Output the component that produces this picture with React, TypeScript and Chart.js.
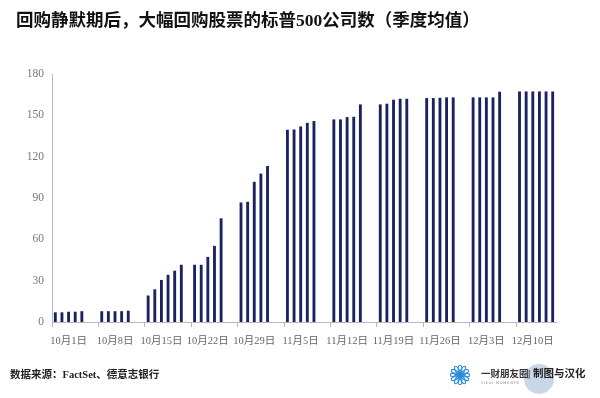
import React, { useEffect, useRef } from "react";
import { Chart, registerables } from "chart.js";

Chart.register(...registerables);

const title = "回购静默期后，大幅回购股票的标普500公司数（季度均值）";
const sourceText = "数据来源：FactSet、德意志银行";
const brandText = "一财朋友圈";
const brandSub = "YICAI MOMENTS";
const creditText = "制图与汉化";

const weekLabels = ["10月1日", "10月8日", "10月15日", "10月22日", "10月29日", "11月5日", "11月12日", "11月19日", "11月26日", "12月3日", "12月10日"];

// one array per week, 7 day-slots each (null = no bar)
const week1 = [6.8, 6.8, 7.2, 7.2, 7.6, null, null];
const week2 = [7.6, 7.6, 7.6, 7.6, 8, null, null];
const week3 = [19, 23.5, 30.3, 34, 37, 41.3, null];
const week4 = [41.3, 41.3, 47, 55, 75, null, null];
const week5 = [86.5, 87, 101.5, 107.5, 113, null, null];
const week6 = [139.3, 139.5, 141.7, 144.3, 145.6, null, null];
const week7 = [146.8, 146.8, 148.5, 148.7, 157.7, null, null];
const week8 = [157.7, 158.2, 161.1, 161.8, 161.8, null, null];
const week9 = [162.3, 162.3, 162.5, 162.8, 162.8, null, null];
const week10 = [162.8, 162.8, 162.8, 162.8, 166.9, null, null];
const week11 = [167.1, 167.1, 167.1, 167.1, 167.1, 167.1];

const weeks = [week1, week2, week3, week4, week5, week6, week7, week8, week9, week10, week11];

const yTicks = { min: 0, max: 180, step: 30 };

const FONT = '"Liberation Serif", "DejaVu Serif", "Noto Sans CJK SC", serif';
const CJK = '"Liberation Serif", "Noto Sans CJK SC", sans-serif';

function Flower() {
  const petals = [];
  for (let i = 0; i < 12; i++) {
    petals.push(
      <ellipse key={i} cx={10} cy={4.2} rx={1.9} ry={4} fill="none" stroke="#2b8ad6" strokeWidth={1.1} transform={`rotate(${i * 30} 10 10)`} />
    );
  }
  return (
    <svg width={20} height={20} viewBox="0 0 20 20">
      {petals}
      <circle cx={10} cy={10} r={2.6} fill="#2b8ad6" />
    </svg>
  );
}

export default function App() {
  const ref = useRef<HTMLCanvasElement>(null);

  useEffect(() => {
    const labels: string[] = [];
    const values: (number | null)[] = [];
    weeks.forEach((w, i) => {
      w.forEach((v, j) => {
        labels.push(weekLabels[i] + "-" + j);
        values.push(v);
      });
    });

    const chart = new Chart(ref.current!, {
      type: "bar",
      data: {
        labels,
        datasets: [
          {
            data: values,
            backgroundColor: "#1b2262",
            barThickness: 2.2,
          },
        ],
      },
      options: {
        animation: false,
        responsive: false,
        devicePixelRatio: 1,
        layout: { padding: { left: 0, top: 74, right: 44, bottom: 0 } },
        plugins: { legend: { display: false }, tooltip: { enabled: false } },
        scales: {
          x: {
            offset: true,
            grid: {
              offset: true,
              drawOnChartArea: false,
              drawTicks: true,
              tickLength: 5,
              color: (ctx: any) => (ctx.index % 7 === 0 ? "#b8b8b8" : "rgba(0,0,0,0)"),
            },
            border: { display: true, color: "#b8b8b8", width: 1 },
            ticks: {
              autoSkip: false,
              maxRotation: 0,
              minRotation: 0,
              padding: 8,
              color: "#666",
              font: { family: CJK, size: 10.5 },
              callback: (_v: any, idx: number) => (idx % 7 === 2 ? weekLabels[Math.floor(idx / 7)] : ""),
            },
            afterFit: (s: any) => {
              s.height = 398 - 322;
            },
          },
          y: {
            min: yTicks.min,
            max: yTicks.max,
            grid: { display: false, drawTicks: false },
            border: { display: true, color: "#b8b8b8", width: 1 },
            ticks: {
              stepSize: yTicks.step,
              padding: 8,
              color: "#777",
              font: { family: FONT, size: 11.5 },
            },
            afterFit: (s: any) => {
              s.width = 52;
            },
          },
        },
      },
    });
    return () => chart.destroy();
  }, []);

  return (
    <div style={{ position: "fixed", left: 0, top: 0, width: 600, height: 398, background: "#fff", overflow: "hidden" }}>
      <canvas ref={ref} width={600} height={398} style={{ position: "absolute", left: 0, top: 0, width: 600, height: 398 }} />
      <div
        style={{
          position: "absolute",
          left: 16,
          top: 10,
          fontFamily: CJK,
          fontWeight: 700,
          fontSize: 17.5,
          lineHeight: "20px",
          color: "#111",
          whiteSpace: "nowrap",
        }}
      >
        {title}
      </div>
      <div
        style={{
          position: "absolute",
          left: 10,
          top: 368,
          fontFamily: CJK,
          fontWeight: 700,
          fontSize: 10.5,
          lineHeight: "14px",
          color: "#222",
          whiteSpace: "nowrap",
        }}
      >
        {sourceText}
      </div>
      <div style={{ position: "absolute", left: 524, top: 364, width: 30, height: 30, borderRadius: 15, background: "rgba(160,182,210,0.55)" }} />
      <div style={{ position: "absolute", left: 450, top: 365 }}>
        <Flower />
      </div>
      <div
        style={{
          position: "absolute",
          left: 481,
          top: 368,
          fontFamily: CJK,
          fontWeight: 700,
          fontSize: 9.5,
          lineHeight: "12px",
          color: "#333",
          whiteSpace: "nowrap",
        }}
      >
        {brandText}
      </div>
      <div
        style={{
          position: "absolute",
          left: 481,
          top: 381,
          fontFamily: "DejaVu Sans, sans-serif",
          fontSize: 3.5,
          letterSpacing: 0.8,
          color: "#777",
          whiteSpace: "nowrap",
        }}
      >
        {brandSub}
      </div>
      <div
        style={{
          position: "absolute",
          left: 528,
          top: 367,
          fontFamily: CJK,
          fontWeight: 700,
          fontSize: 10.5,
          lineHeight: "14px",
          color: "#222",
          whiteSpace: "nowrap",
        }}
      >
        {"| " + creditText}
      </div>
    </div>
  );
}
